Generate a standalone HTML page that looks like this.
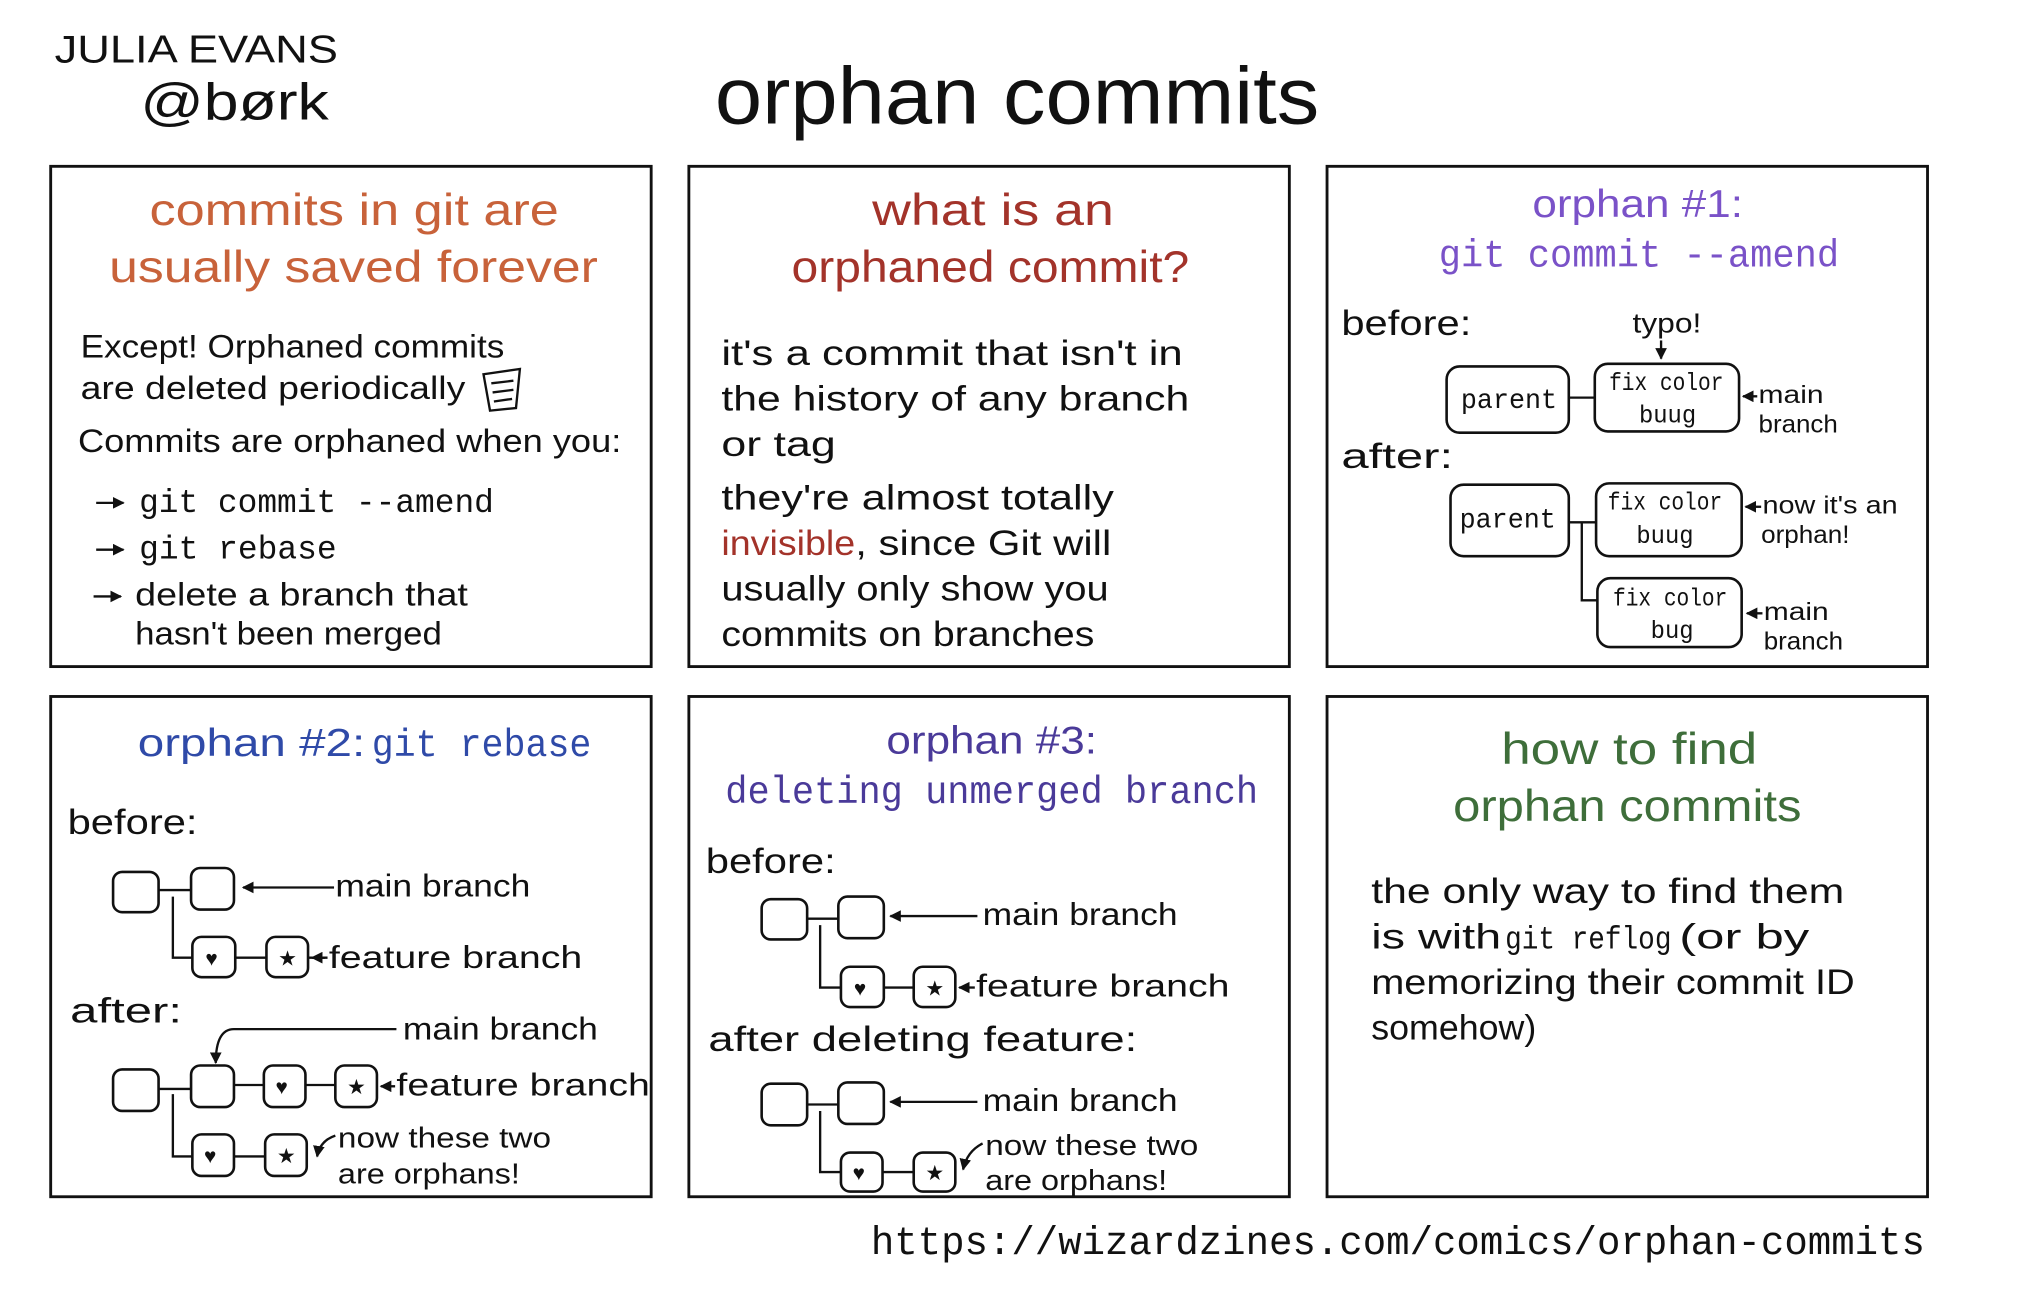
<!DOCTYPE html>
<html><head><meta charset="utf-8">
<style>
html,body{margin:0;padding:0;background:#fff;}
svg{display:block;}
text{font-family:"Liberation Sans",sans-serif;fill:#111;}
.m{font-family:"Liberation Mono",monospace;}
.b{fill:none;stroke:#111;stroke-width:2.2;}
.n{fill:#fff;stroke:#111;stroke-width:2;}
.l{fill:none;stroke:#111;stroke-width:1.8;}
</style></head><body>
<svg width="2038" height="1289" viewBox="0 0 1568 992" preserveAspectRatio="none" xmlns="http://www.w3.org/2000/svg">
<defs>
<marker id="a" viewBox="0 0 10 10" refX="9" refY="5" markerWidth="5" markerHeight="5" orient="auto"><path d="M0,0L10,5L0,10z" fill="#111"/></marker>
</defs>
<!-- header -->
<text x="42" y="48" font-size="30" textLength="218" lengthAdjust="spacingAndGlyphs">JULIA EVANS</text>
<text x="108" y="92" font-size="40" textLength="145" lengthAdjust="spacingAndGlyphs">@børk</text>
<text x="550" y="95" font-size="62" textLength="465" lengthAdjust="spacingAndGlyphs">orphan commits</text>

<!-- panels -->
<rect class="b" x="39" y="128" width="462" height="385"/>
<rect class="b" x="530" y="128" width="462" height="385"/>
<rect class="b" x="1021" y="128" width="462" height="385"/>
<rect class="b" x="39" y="536" width="462" height="385"/>
<rect class="b" x="530" y="536" width="462" height="385"/>
<rect class="b" x="1021" y="536" width="462" height="385"/>

<!-- P1 -->
<text x="115" y="173" font-size="34" style="fill:#c8623a" textLength="315" lengthAdjust="spacingAndGlyphs">commits in git are</text>
<text x="84" y="217" font-size="34" style="fill:#c8623a" textLength="376" lengthAdjust="spacingAndGlyphs">usually saved forever</text>
<text x="62" y="275" font-size="25" textLength="326" lengthAdjust="spacingAndGlyphs">Except! Orphaned commits</text>
<text x="62" y="307" font-size="25" textLength="296" lengthAdjust="spacingAndGlyphs">are deleted periodically</text>
<g class="l"><path d="M372,288 L400,284 L397,314 L377,316 Z"/><path d="M378,295 L395,293 M379,302 L395,300 M380,309 L394,307"/></g>
<text x="60" y="348" font-size="25" textLength="418" lengthAdjust="spacingAndGlyphs">Commits are orphaned when you:</text>
<g class="l"><path d="M74,387 H95" marker-end="url(#a)"/><path d="M74,423 H95" marker-end="url(#a)"/><path d="M72,459 H93" marker-end="url(#a)"/></g>
<text x="107" y="394" font-size="26" class="m" textLength="273" lengthAdjust="spacingAndGlyphs">git commit --amend</text>
<text x="107" y="430" font-size="26" class="m" textLength="152" lengthAdjust="spacingAndGlyphs">git rebase</text>
<text x="104" y="466" font-size="25" textLength="256" lengthAdjust="spacingAndGlyphs">delete a branch that</text>
<text x="104" y="496" font-size="25" textLength="236" lengthAdjust="spacingAndGlyphs">hasn't been merged</text>

<!-- P2 -->
<text x="671" y="173" font-size="34" style="fill:#a3332a" textLength="186" lengthAdjust="spacingAndGlyphs">what is an</text>
<text x="609" y="217" font-size="34" style="fill:#a3332a" textLength="306" lengthAdjust="spacingAndGlyphs">orphaned commit?</text>
<text x="555" y="281" font-size="27" textLength="355" lengthAdjust="spacingAndGlyphs">it's a commit that isn't in</text>
<text x="555" y="316" font-size="27" textLength="360" lengthAdjust="spacingAndGlyphs">the history of any branch</text>
<text x="555" y="351" font-size="27" textLength="88" lengthAdjust="spacingAndGlyphs">or tag</text>
<text x="555" y="392" font-size="27" textLength="302" lengthAdjust="spacingAndGlyphs">they're almost totally</text>
<text x="555" y="427" font-size="27" style="fill:#a3332a" textLength="103" lengthAdjust="spacingAndGlyphs">invisible</text>
<text x="658" y="427" font-size="27" textLength="197" lengthAdjust="spacingAndGlyphs">, since Git will</text>
<text x="555" y="462" font-size="27" textLength="298" lengthAdjust="spacingAndGlyphs">usually only show you</text>
<text x="555" y="497" font-size="27" textLength="287" lengthAdjust="spacingAndGlyphs">commits on branches</text>

<!-- P3 -->
<text x="1179" y="167" font-size="30" style="fill:#7a52c8" textLength="162" lengthAdjust="spacingAndGlyphs">orphan #1:</text>
<text x="1107" y="205" font-size="30" class="m" style="fill:#7a52c8" textLength="308" lengthAdjust="spacingAndGlyphs">git commit --amend</text>
<text x="1032" y="258" font-size="27" textLength="100" lengthAdjust="spacingAndGlyphs">before:</text>
<text x="1256" y="256" font-size="21" textLength="53" lengthAdjust="spacingAndGlyphs">typo!</text>
<path class="l" d="M1278,262 V276" marker-end="url(#a)"/>
<rect class="n" x="1113" y="282" width="94" height="51" rx="10"/>
<text x="1124" y="314" font-size="21" class="m" textLength="74" lengthAdjust="spacingAndGlyphs">parent</text>
<path class="l" d="M1207,306 H1227"/>
<rect class="n" x="1227" y="280" width="111" height="52" rx="10"/>
<text x="1238" y="300" font-size="19" class="m" textLength="88" lengthAdjust="spacingAndGlyphs">fix color</text>
<text x="1261" y="325" font-size="19" class="m" textLength="44" lengthAdjust="spacingAndGlyphs">buug</text>
<path class="l" d="M1352,305 H1341" marker-end="url(#a)"/>
<text x="1353" y="310" font-size="19" textLength="50" lengthAdjust="spacingAndGlyphs">main</text>
<text x="1353" y="333" font-size="19" textLength="61" lengthAdjust="spacingAndGlyphs">branch</text>
<text x="1032" y="360" font-size="27" textLength="86" lengthAdjust="spacingAndGlyphs">after:</text>
<rect class="n" x="1116" y="373" width="91" height="55" rx="10"/>
<text x="1123" y="406" font-size="21" class="m" textLength="74" lengthAdjust="spacingAndGlyphs">parent</text>
<path class="l" d="M1207,402 H1228 M1217,402 V462 H1229"/>
<rect class="n" x="1228" y="372" width="112" height="56" rx="10"/>
<text x="1237" y="392" font-size="19" class="m" textLength="88" lengthAdjust="spacingAndGlyphs">fix color</text>
<text x="1259" y="418" font-size="19" class="m" textLength="44" lengthAdjust="spacingAndGlyphs">buug</text>
<path class="l" d="M1355,390 H1343" marker-end="url(#a)"/>
<text x="1356" y="395" font-size="19" textLength="104" lengthAdjust="spacingAndGlyphs">now it's an</text>
<text x="1355" y="418" font-size="19" textLength="68" lengthAdjust="spacingAndGlyphs">orphan!</text>
<rect class="n" x="1229" y="445" width="111" height="53" rx="10"/>
<text x="1241" y="466" font-size="19" class="m" textLength="88" lengthAdjust="spacingAndGlyphs">fix color</text>
<text x="1270" y="491" font-size="19" class="m" textLength="33" lengthAdjust="spacingAndGlyphs">bug</text>
<path class="l" d="M1356,472 H1344" marker-end="url(#a)"/>
<text x="1357" y="477" font-size="19" textLength="50" lengthAdjust="spacingAndGlyphs">main</text>
<text x="1357" y="500" font-size="19" textLength="61" lengthAdjust="spacingAndGlyphs">branch</text>

<!-- P4 -->
<text x="106" y="582" font-size="30" style="fill:#2f4aa8" textLength="175" lengthAdjust="spacingAndGlyphs">orphan #2:</text>
<text x="286" y="582" font-size="30" class="m" style="fill:#2f4aa8" textLength="169" lengthAdjust="spacingAndGlyphs">git rebase</text>
<text x="52" y="642" font-size="27" textLength="100" lengthAdjust="spacingAndGlyphs">before:</text>
<g class="l"><path d="M122,685 H147 M133,690 V737 H148 M181,737 H205 M237,737 H250"/></g>
<rect class="n" x="87" y="671" width="35" height="31" rx="7"/>
<rect class="n" x="147" y="668" width="33" height="32" rx="7"/>
<path class="l" d="M257,683 H187" marker-end="url(#a)"/>
<text x="258" y="690" font-size="24" textLength="150" lengthAdjust="spacingAndGlyphs">main branch</text>
<rect class="n" x="148" y="721" width="33" height="31" rx="7"/><text x="158" y="743" font-size="16">♥</text>
<rect class="n" x="205" y="721" width="32" height="31" rx="7"/><text x="214" y="743" font-size="16">★</text>
<path class="l" d="M252,737 H240" marker-end="url(#a)"/>
<text x="253" y="745" font-size="24" textLength="195" lengthAdjust="spacingAndGlyphs">feature branch</text>
<text x="54" y="787" font-size="27" textLength="86" lengthAdjust="spacingAndGlyphs">after:</text>
<path class="l" d="M305,792 H180 Q166,792 166,818" marker-end="url(#a)"/>
<text x="310" y="800" font-size="24" textLength="150" lengthAdjust="spacingAndGlyphs">main branch</text>
<g class="l"><path d="M122,838 H147 M180,835 H203 M235,835 H258 M133,842 V890 H148 M180,890 H204"/></g>
<rect class="n" x="87" y="823" width="35" height="32" rx="7"/>
<rect class="n" x="147" y="820" width="33" height="32" rx="7"/>
<rect class="n" x="203" y="820" width="32" height="32" rx="7"/><text x="212" y="842" font-size="16">♥</text>
<rect class="n" x="258" y="820" width="32" height="32" rx="7"/><text x="267" y="842" font-size="16">★</text>
<path class="l" d="M304,836 H293" marker-end="url(#a)"/>
<text x="305" y="843" font-size="24" textLength="195" lengthAdjust="spacingAndGlyphs">feature branch</text>
<rect class="n" x="148" y="873" width="32" height="32" rx="7"/><text x="157" y="895" font-size="16">♥</text>
<rect class="n" x="204" y="873" width="32" height="32" rx="7"/><text x="213" y="895" font-size="16">★</text>
<path class="l" d="M258,874 Q246,878 244,890" marker-end="url(#a)"/>
<text x="260" y="883" font-size="22" textLength="164" lengthAdjust="spacingAndGlyphs">now these two</text>
<text x="260" y="911" font-size="22" textLength="140" lengthAdjust="spacingAndGlyphs">are orphans!</text>

<!-- P5 -->
<text x="682" y="580" font-size="30" style="fill:#4a3a99" textLength="162" lengthAdjust="spacingAndGlyphs">orphan #3:</text>
<text x="558" y="618" font-size="30" class="m" style="fill:#4a3a99" textLength="410" lengthAdjust="spacingAndGlyphs">deleting unmerged branch</text>
<text x="543" y="672" font-size="27" textLength="100" lengthAdjust="spacingAndGlyphs">before:</text>
<g class="l"><path d="M621,707 H645 M631,712 V760 H647 M680,760 H703"/></g>
<rect class="n" x="586" y="692" width="35" height="31" rx="7"/>
<rect class="n" x="645" y="690" width="35" height="32" rx="7"/>
<path class="l" d="M752,705 H685" marker-end="url(#a)"/>
<text x="756" y="712" font-size="24" textLength="150" lengthAdjust="spacingAndGlyphs">main branch</text>
<rect class="n" x="647" y="744" width="33" height="31" rx="7"/><text x="657" y="766" font-size="16">♥</text>
<rect class="n" x="703" y="744" width="32" height="31" rx="7"/><text x="712" y="766" font-size="16">★</text>
<path class="l" d="M750,760 H738" marker-end="url(#a)"/>
<text x="751" y="767" font-size="24" textLength="195" lengthAdjust="spacingAndGlyphs">feature branch</text>
<text x="545" y="809" font-size="27" textLength="330" lengthAdjust="spacingAndGlyphs">after deleting feature:</text>
<g class="l"><path d="M621,850 H645 M631,855 V902 H647 M679,902 H703"/></g>
<rect class="n" x="586" y="834" width="35" height="32" rx="7"/>
<rect class="n" x="645" y="833" width="35" height="32" rx="7"/>
<path class="l" d="M752,848 H685" marker-end="url(#a)"/>
<text x="756" y="855" font-size="24" textLength="150" lengthAdjust="spacingAndGlyphs">main branch</text>
<rect class="n" x="647" y="887" width="32" height="30" rx="7"/><text x="656" y="908" font-size="16">♥</text>
<rect class="n" x="703" y="887" width="32" height="30" rx="7"/><text x="712" y="908" font-size="16">★</text>
<path class="l" d="M756,880 Q744,886 741,900" marker-end="url(#a)"/>
<text x="758" y="889" font-size="22" textLength="164" lengthAdjust="spacingAndGlyphs">now these two</text>
<text x="758" y="916" font-size="22" textLength="140" lengthAdjust="spacingAndGlyphs">are orphans!</text>

<!-- P6 -->
<text x="1155" y="588" font-size="34" style="fill:#3e6e3a" textLength="197" lengthAdjust="spacingAndGlyphs">how to find</text>
<text x="1118" y="632" font-size="34" style="fill:#3e6e3a" textLength="268" lengthAdjust="spacingAndGlyphs">orphan commits</text>
<text x="1055" y="695" font-size="27" textLength="364" lengthAdjust="spacingAndGlyphs">the only way to find them</text>
<text x="1055" y="730" font-size="27" textLength="100" lengthAdjust="spacingAndGlyphs">is with</text>
<text x="1158" y="730" font-size="25" class="m" textLength="128" lengthAdjust="spacingAndGlyphs">git reflog</text>
<text x="1292" y="730" font-size="27" textLength="100" lengthAdjust="spacingAndGlyphs">(or by</text>
<text x="1055" y="765" font-size="27" textLength="372" lengthAdjust="spacingAndGlyphs">memorizing their commit ID</text>
<text x="1055" y="800" font-size="27" textLength="127" lengthAdjust="spacingAndGlyphs">somehow)</text>

<!-- URL -->
<text x="670" y="965" font-size="31" class="m" textLength="811" lengthAdjust="spacingAndGlyphs">https://wizardzines.com/comics/orphan-commits</text>
</svg>
</body></html>
